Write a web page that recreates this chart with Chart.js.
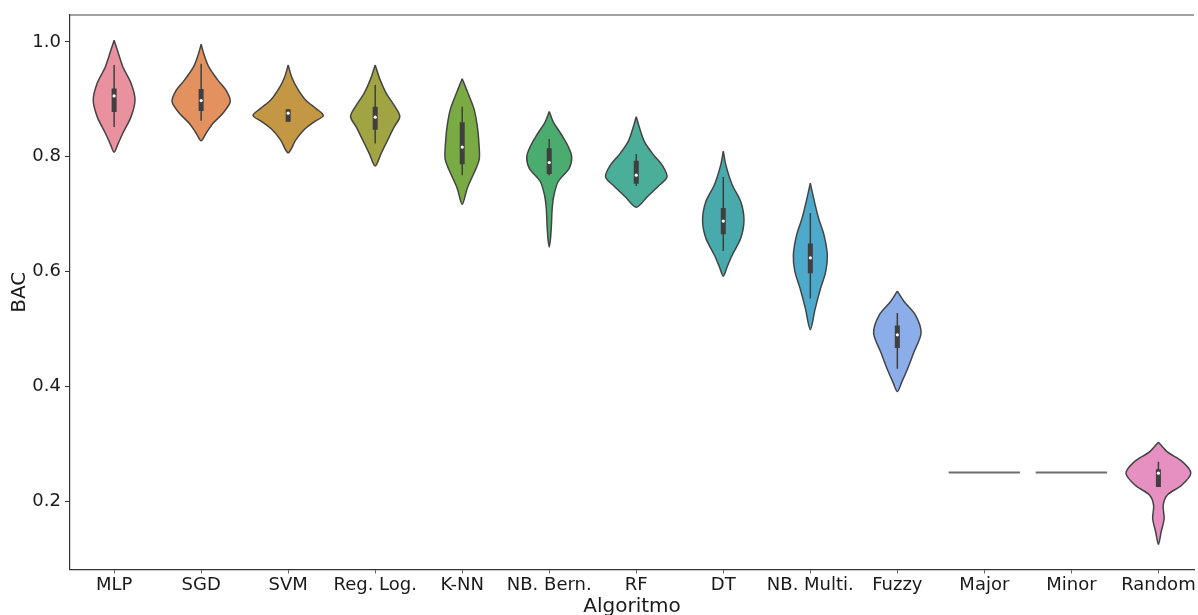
<!DOCTYPE html>
<html>
<head>
<meta charset="utf-8">
<script src="https://cdn.jsdelivr.net/npm/chart.js@4.4.0/dist/chart.umd.min.js"></script>
<style>
  body { margin: 0; background: #fff; }
</style>
</head>
<body>
<canvas id="violin-chart" width="1198" height="615"></canvas>
<script>
// categories on the x axis
const categories = ['MLP', 'SGD', 'SVM', 'Reg. Log.', 'K-NN', 'NB. Bern.', 'RF', 'DT', 'NB. Multi.', 'Fuzzy', 'Major', 'Minor', 'Random'];
const yTicks = [0.2, 0.4, 0.6, 0.8, 1.0];

// density profile of each violin: BAC levels (top to bottom) and half widths (category units)
const densityY = [
    [1.003, 0.986, 0.957, 0.928, 0.899, 0.870, 0.841, 0.823, 0.808],
    [0.996, 0.980, 0.957, 0.934, 0.916, 0.896, 0.876, 0.858, 0.841, 0.828],
    [0.960, 0.940, 0.922, 0.899, 0.884, 0.872, 0.861, 0.847, 0.829, 0.807],
    [0.960, 0.934, 0.911, 0.887, 0.870, 0.852, 0.829, 0.806, 0.784],
    [0.936, 0.913, 0.884, 0.855, 0.826, 0.797, 0.780, 0.768, 0.745, 0.717],
    [0.879, 0.861, 0.838, 0.818, 0.800, 0.780, 0.757, 0.733, 0.710, 0.681, 0.658, 0.643],
    [0.870, 0.850, 0.826, 0.803, 0.786, 0.765, 0.748, 0.730, 0.712],
    [0.810, 0.786, 0.751, 0.722, 0.690, 0.658, 0.629, 0.609, 0.592],
    [0.754, 0.728, 0.693, 0.664, 0.629, 0.600, 0.571, 0.536, 0.499],
    [0.566, 0.548, 0.524, 0.493, 0.460, 0.431, 0.408, 0.391],
    null,
    null,
    [0.303, 0.286, 0.269, 0.249, 0.228, 0.211, 0.193, 0.170, 0.147, 0.125]
];
const densityW = [
    [0, 0.037, 0.10, 0.195, 0.24, 0.195, 0.10, 0.046, 0],
    [0, 0.029, 0.086, 0.19, 0.286, 0.334, 0.25, 0.134, 0.057, 0],
    [0, 0.038, 0.095, 0.20, 0.32, 0.404, 0.30, 0.183, 0.086, 0],
    [0, 0.057, 0.126, 0.229, 0.283, 0.218, 0.143, 0.069, 0],
    [0, 0.061, 0.134, 0.172, 0.191, 0.197, 0.16, 0.124, 0.057, 0],
    [0, 0.046, 0.143, 0.218, 0.258, 0.229, 0.103, 0.054, 0.034, 0.025, 0.015, 0],
    [0, 0.038, 0.095, 0.20, 0.295, 0.353, 0.248, 0.124, 0],
    [0, 0.029, 0.103, 0.20, 0.238, 0.20, 0.103, 0.046, 0],
    [0, 0.038, 0.095, 0.157, 0.195, 0.177, 0.118, 0.057, 0],
    [0, 0.077, 0.21, 0.273, 0.191, 0.118, 0.052, 0],
    null,
    null,
    [0, 0.103, 0.275, 0.372, 0.267, 0.103, 0.055, 0.066, 0.032, 0]
];

// inner box plot
const whiskerLow  = [0.852, 0.863, 0.861, 0.823, 0.768, 0.768, 0.749, 0.636, 0.553, 0.431, null, null, 0.225];
const q1          = [0.878, 0.880, 0.861, 0.847, 0.787, 0.770, 0.753, 0.665, 0.597, 0.467, null, null, 0.225];
const medians     = [0.906, 0.898, 0.876, 0.869, 0.817, 0.790, 0.768, 0.688, 0.624, 0.490, null, null, 0.249];
const q3          = [0.919, 0.918, 0.883, 0.887, 0.860, 0.815, 0.793, 0.711, 0.649, 0.506, null, null, 0.256];
const whiskerHigh = [0.960, 0.962, 0.883, 0.925, 0.887, 0.831, 0.805, 0.765, 0.702, 0.528, null, null, 0.269];

// constant results (all runs give the same score)
const flatValues = [null, null, null, null, null, null, null, null, null, null, 0.25, 0.25, null];
const flatHalfWidth = 0.41;

const colors = [
    'rgb(234,145,160)', 'rgb(226,145,95)', 'rgb(196,151,68)', 'rgb(160,164,66)',
    'rgb(122,170,67)', 'rgb(74,173,111)', 'rgb(74,174,152)', 'rgb(72,170,173)',
    'rgb(77,170,204)', 'rgb(139,173,234)', 'rgb(170,150,235)', 'rgb(210,140,230)',
    'rgb(230,143,193)'
];

const EDGE = 'rgb(68,68,68)';
const BOX = 'rgb(63,63,63)';

function violinPoints(i) {
    const ys = densityY[i], ws = densityW[i];
    const right = ys.map((y, k) => ({ x: i + ws[k], y }));
    const left = ys.map((y, k) => ({ x: i - ws[k], y })).reverse();
    return right.concat(left.slice(1));
}

const datasets = [];
categories.forEach((cat, i) => {
    if (densityY[i]) {
        datasets.push({
            data: violinPoints(i),
            showLine: true,
            fill: 'shape',
            backgroundColor: colors[i],
            borderColor: EDGE,
            borderWidth: 1.5,
            pointRadius: 0,
            tension: 0.3,
            order: 4
        });
        datasets.push({
            data: [{ x: i, y: whiskerLow[i] }, { x: i, y: whiskerHigh[i] }],
            showLine: true,
            borderColor: BOX,
            borderWidth: 1.5,
            pointRadius: 0,
            order: 3
        });
        datasets.push({
            data: [{ x: i, y: q1[i] }, { x: i, y: q3[i] }],
            showLine: true,
            borderColor: BOX,
            borderWidth: 5,
            borderCapStyle: 'butt',
            pointRadius: 0,
            order: 2
        });
        datasets.push({
            data: [{ x: i, y: medians[i] }],
            backgroundColor: '#fff',
            borderWidth: 0,
            pointRadius: 1.6,
            order: 1
        });
    } else if (flatValues[i] !== null) {
        datasets.push({
            data: [{ x: i - flatHalfWidth, y: flatValues[i] }, { x: i + flatHalfWidth, y: flatValues[i] }],
            showLine: true,
            borderColor: 'rgb(110,110,110)',
            borderWidth: 2,
            pointRadius: 0,
            order: 4
        });
    }
});

// matplotlib-style top spine
const topSpine = {
    id: 'topSpine',
    afterDraw(chart) {
        const { ctx, chartArea } = chart;
        ctx.save();
        ctx.strokeStyle = '#444';
        ctx.lineWidth = 1.2;
        ctx.beginPath();
        ctx.moveTo(chartArea.left, chartArea.top);
        ctx.lineTo(chartArea.right, chartArea.top);
        ctx.stroke();
        ctx.restore();
    }
};

const ctx = document.getElementById('violin-chart').getContext('2d');
new Chart(ctx, {
    type: 'scatter',
    data: { datasets },
    plugins: [topSpine],
    options: {
        responsive: false,
        animation: false,
        layout: { padding: { top: 15, right: 0, left: 0, bottom: 0 } },
        plugins: {
            legend: { display: false },
            tooltip: { enabled: false }
        },
        scales: {
            x: {
                type: 'linear',
                min: -0.507,
                max: 12.409,
                afterBuildTicks: scale => { scale.ticks = categories.map((c, i) => ({ value: i })); },
                afterFit: scale => { scale.height = 45.5; },
                ticks: {
                    callback: v => categories[v],
                    autoSkip: false,
                    maxRotation: 0,
                    padding: 1,
                    color: '#1a1a1a',
                    font: { family: 'DejaVu Sans', size: 18 }
                },
                grid: { drawOnChartArea: false, tickLength: 4, color: '#666' },
                border: { color: '#333', width: 1.2 },
                title: {
                    display: true,
                    text: 'Algoritmo',
                    color: '#1a1a1a',
                    font: { family: 'DejaVu Sans', size: 20, lineHeight: 1 },
                    padding: { top: 0, bottom: -2 }
                }
            },
            y: {
                min: 0.0812,
                max: 1.047,
                afterBuildTicks: scale => { scale.ticks = yTicks.map(v => ({ value: v })); },
                afterFit: scale => { scale.width = 70; },
                ticks: {
                    callback: v => v.toFixed(1),
                    padding: 4,
                    color: '#1a1a1a',
                    font: { family: 'DejaVu Sans', size: 18 }
                },
                grid: { drawOnChartArea: false, tickLength: 5, color: '#333' },
                border: { color: '#333', width: 1.2 },
                title: {
                    display: true,
                    text: 'BAC',
                    color: '#1a1a1a',
                    font: { family: 'DejaVu Sans', size: 20, lineHeight: 1 },
                    padding: { top: 10, bottom: 0 }
                }
            }
        }
    }
});
</script>
</body>
</html>
